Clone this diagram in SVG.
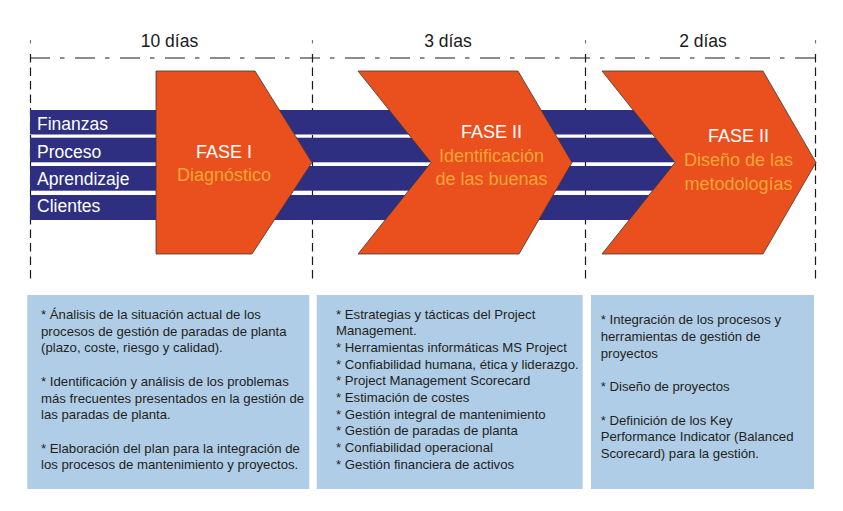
<svg xmlns="http://www.w3.org/2000/svg" width="843" height="511" viewBox="0 0 843 511">
<style>
  .guide{stroke:#1a1a1a;stroke-width:1.2;fill:none}
  .vdash{stroke-dasharray:8.5 5}
  .hdash{stroke-dasharray:20 10 4.5 10.5}
  .tick{stroke:#777;stroke-width:1.2}
  .days{font-family:"Liberation Sans",Arial,sans-serif;font-size:17.5px;fill:#1a1a1a;text-anchor:middle}
  .band{fill:#2E2F80}
  .bandtxt{font-family:"Liberation Sans",Arial,sans-serif;font-size:17.5px;fill:#ffffff}
  .chev{fill:#E9501E;stroke:#3a3a3a;stroke-width:0.8}
  .ph{font-family:"Liberation Sans",Arial,sans-serif;font-size:18px;text-anchor:middle}
  .ph .w{fill:#ffffff}
  .ph .y{fill:#F8A534}
  .box{fill:#B0CDE7}
  .bt{font-family:"Liberation Sans",Arial,sans-serif;font-size:13.2px;fill:#231F20}
</style>

<g id="guides">
  <line class="guide hdash" x1="30" y1="58" x2="816" y2="58"/>
  <line class="guide vdash" x1="30.5" y1="54" x2="30.5" y2="282"/>
  <line class="guide vdash" x1="312.5" y1="54" x2="312.5" y2="282"/>
  <line class="guide vdash" x1="585.5" y1="54" x2="585.5" y2="282"/>
  <line class="guide vdash" x1="815.5" y1="54" x2="815.5" y2="282"/>
  <line class="tick" x1="30.5" y1="40" x2="30.5" y2="43.5"/>
  <line class="tick" x1="312.5" y1="40" x2="312.5" y2="43.5"/>
  <line class="tick" x1="585.5" y1="40" x2="585.5" y2="43.5"/>
  <line class="tick" x1="815.5" y1="40" x2="815.5" y2="43.5"/>
  <text class="days" x="169.5" y="46.5">10 días</text>
  <text class="days" x="448" y="46.5">3 días</text>
  <text class="days" x="703" y="46.5">2 días</text>
</g>

<g id="bands">
  <rect class="band" x="30" y="110" width="650" height="24.5"/>
  <rect class="band" x="30" y="137.7" width="650" height="24.6"/>
  <rect class="band" x="30" y="166" width="650" height="24.7"/>
  <rect class="band" x="30" y="195" width="650" height="25"/>
  <text class="bandtxt" x="37" y="130">Finanzas</text>
  <text class="bandtxt" x="37" y="157.5">Proceso</text>
  <text class="bandtxt" x="37" y="185">Aprendizaje</text>
  <text class="bandtxt" x="37" y="211.5">Clientes</text>
</g>

<g id="fase1">
  <polygon class="chev" points="156,71 255,71 312,162.5 252,254 156,254"/>
  <text class="ph" x="224" y="157.5"><tspan class="w">FASE I</tspan></text>
  <text class="ph" x="224" y="180.5"><tspan class="y">Diagnóstico</tspan></text>
</g>

<g id="fase2">
  <polygon class="chev" points="358,71 518,71 572,162.5 519,254 358,254 431,162.5"/>
  <text class="ph" x="491.5" y="137.5"><tspan class="w">FASE II</tspan></text>
  <text class="ph" x="491.5" y="161.5"><tspan class="y">Identificación</tspan></text>
  <text class="ph" x="491.5" y="185"><tspan class="y">de las buenas</tspan></text>
</g>

<g id="fase3">
  <polygon class="chev" points="602,71 763,71 816,162.5 763,254 602,254 675,162.5"/>
  <text class="ph" x="738.5" y="142"><tspan class="w">FASE II</tspan></text>
  <text class="ph" x="738.5" y="166"><tspan class="y">Diseño de las</tspan></text>
  <text class="ph" x="738.5" y="190"><tspan class="y">metodologías</tspan></text>
</g>

<g id="box1">
  <rect class="box" x="27.3" y="295" width="282" height="194"/>
  <text class="bt">
    <tspan x="41" y="319">* Ánalisis de la situación actual de los</tspan>
    <tspan x="41" y="335.7">procesos de gestión de paradas de planta</tspan>
    <tspan x="41" y="352.4">(plazo, coste, riesgo y calidad).</tspan>
    <tspan x="41" y="385.8">* Identificación y análisis de los problemas</tspan>
    <tspan x="41" y="402.5">más frecuentes presentados en la gestión de</tspan>
    <tspan x="41" y="419.2">las paradas de planta.</tspan>
    <tspan x="41" y="452.6">* Elaboración del plan para la integración de</tspan>
    <tspan x="41" y="469.3">los procesos de mantenimiento y proyectos.</tspan>
  </text>
</g>

<g id="box2">
  <rect class="box" x="316.7" y="295" width="266" height="194"/>
  <text class="bt">
    <tspan x="336" y="318.5">* Estrategias y tácticas del Project</tspan>
    <tspan x="336" y="335.2">Management.</tspan>
    <tspan x="336" y="351.9">* Herramientas informáticas MS Project</tspan>
    <tspan x="336" y="368.6">* Confiabilidad humana, ética y liderazgo.</tspan>
    <tspan x="336" y="385.3">* Project Management Scorecard</tspan>
    <tspan x="336" y="402">* Estimación de costes</tspan>
    <tspan x="336" y="418.7">* Gestión integral de mantenimiento</tspan>
    <tspan x="336" y="435.4">* Gestión de paradas de planta</tspan>
    <tspan x="336" y="452.1">* Confiabilidad operacional</tspan>
    <tspan x="336" y="468.8">* Gestión financiera de activos</tspan>
  </text>
</g>

<g id="box3">
  <rect class="box" x="591" y="295" width="223" height="194"/>
  <text class="bt">
    <tspan x="600.7" y="324.3">* Integración de los procesos y</tspan>
    <tspan x="600.7" y="341">herramientas de gestión de</tspan>
    <tspan x="600.7" y="357.7">proyectos</tspan>
    <tspan x="600.7" y="391.1">* Diseño de proyectos</tspan>
    <tspan x="600.7" y="424.5">* Definición de los Key</tspan>
    <tspan x="600.7" y="441.2">Performance Indicator (Balanced</tspan>
    <tspan x="600.7" y="457.9">Scorecard) para la gestión.</tspan>
  </text>
</g>
</svg>
